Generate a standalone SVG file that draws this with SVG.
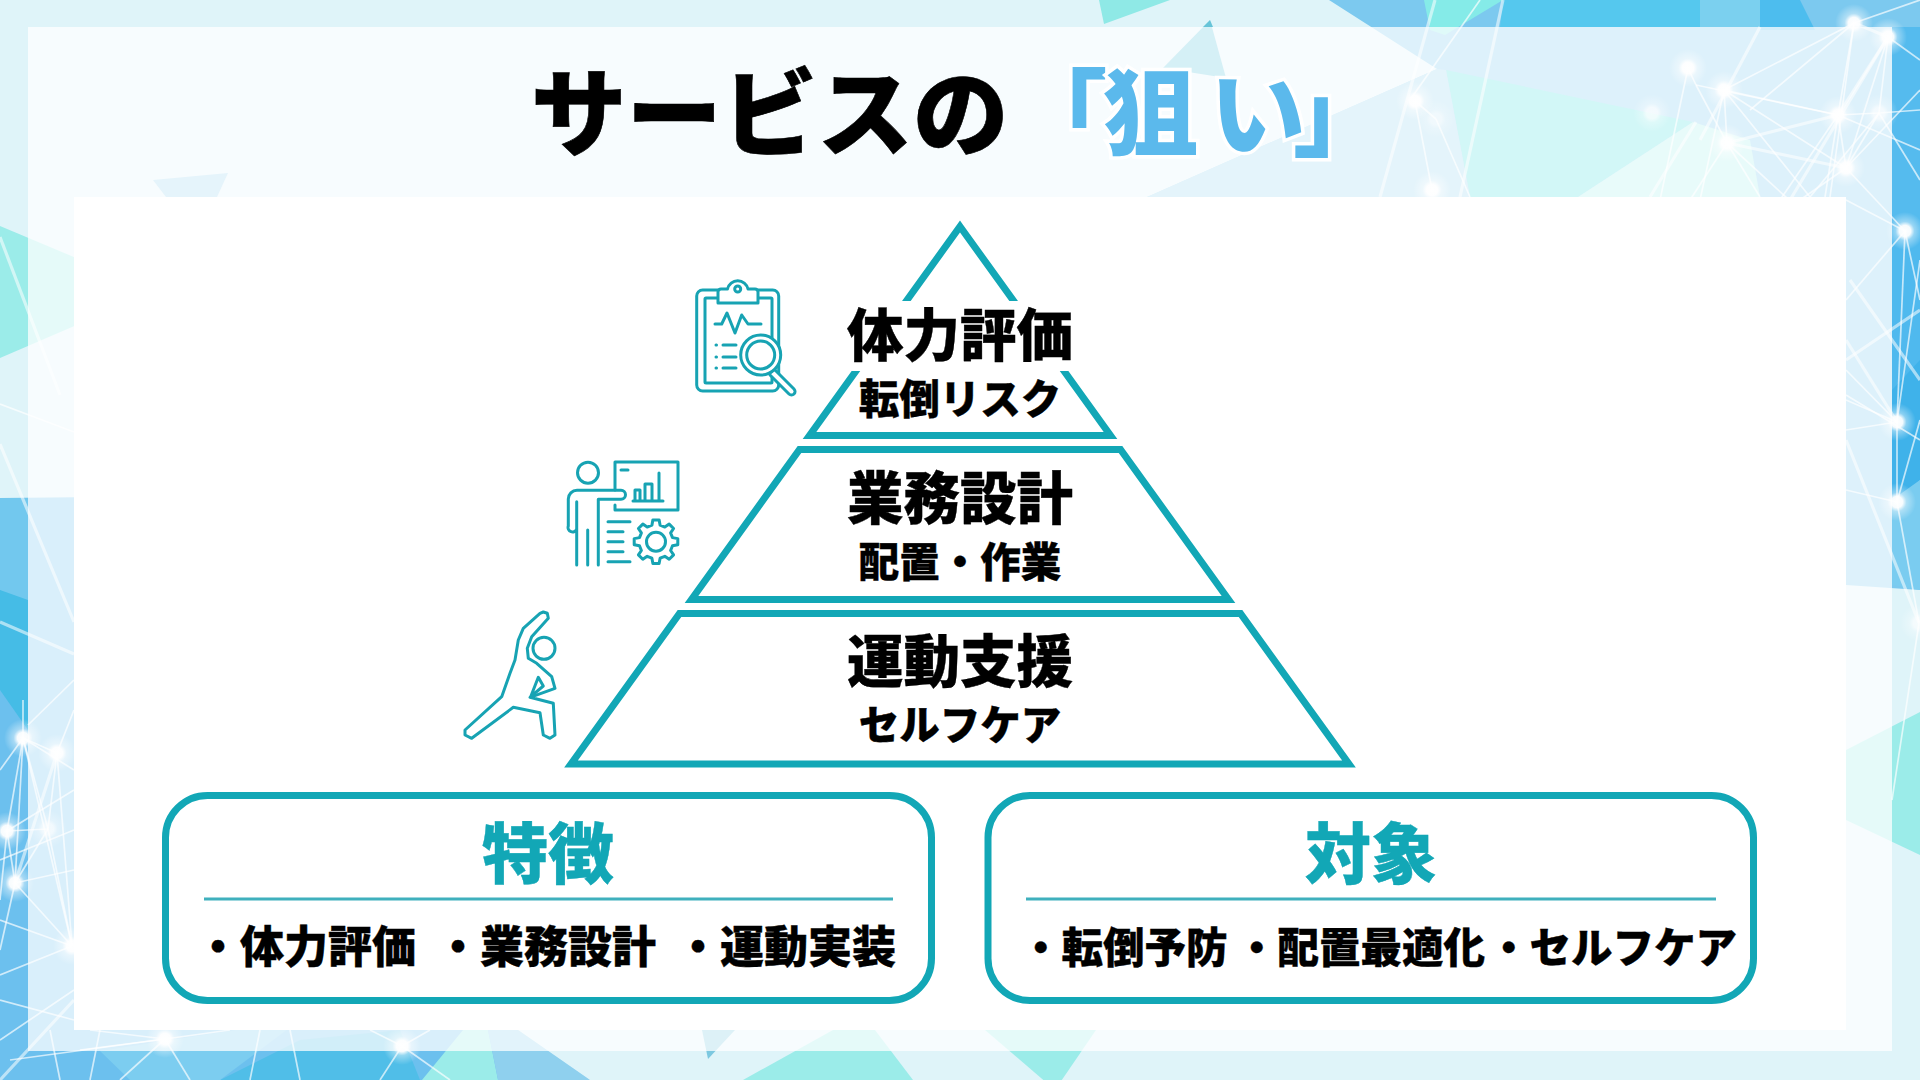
<svg xmlns="http://www.w3.org/2000/svg" width="1920" height="1080" viewBox="0 0 1920 1080">
<defs>
<radialGradient id="glow"><stop offset="0" stop-color="#fff"/><stop offset="0.3" stop-color="#fff" stop-opacity="0.95"/><stop offset="0.5" stop-color="#fff" stop-opacity="0.4"/><stop offset="1" stop-color="#fff" stop-opacity="0"/></radialGradient>
<g id="n"><circle r="19" fill="url(#glow)"/></g>
</defs>
<style>
.net line{stroke:#fff;stroke-width:1.7;stroke-opacity:.68}
.net .b{stroke-width:3.2;stroke-opacity:.55}
.ic{fill:none;stroke:#17a3b3;stroke-width:3;stroke-linecap:round;stroke-linejoin:round}
.tier{fill:none;stroke:#12a7b6;stroke-width:7;stroke-linejoin:miter;stroke-miterlimit:10}
.card{fill:#fff;stroke:#12a7b6;stroke-width:7}
.rule{stroke:#3fb0bd;stroke-width:3}
text{font-family:"Noto Sans CJK JP","Noto Sans",sans-serif;font-weight:900;fill:#000;stroke:#000;stroke-width:.4;text-anchor:middle}
.h{font-size:56.500px}.s{font-size:40.500px}.c{font-size:66px;fill:#12a7b6;stroke:#12a7b6}
.l{font-size:44px;text-anchor:start}.r{font-size:41.500px;text-anchor:start}
.t{font-size:95.500px;text-anchor:start;stroke-width:.6}
.tb{fill:#5bb9ec;stroke:#fff;stroke-width:7;paint-order:stroke}
</style>
<g id="background">
<rect width="1920" height="1080" fill="#dff4f9"/>
<polygon points="1329,0 1920,0 1920,590 1846,585 1147,585 1147,197 1437,69" fill="#7cc9ef"/>
<polygon points="1503,0 1700,0 1700,27 1500,27" fill="#55c8ee"/>
<polygon points="1700,0 1760,0 1765,27 1700,27" fill="#7bd0ef"/>
<polygon points="1760,0 1800,0 1815,30 1760,30" fill="#4dbdee"/>
<polygon points="1424,0 1503,0 1445,35 1430,30" fill="#85ebe8"/>
<polygon points="1892,27 1920,27 1920,230 1892,230" fill="#55bbee"/>
<polygon points="1892,230 1920,230 1920,400 1892,390" fill="#4fb9ee"/>
<polygon points="1892,390 1920,360 1920,480 1892,510" fill="#3fb2ea"/>
<polygon points="1892,500 1920,480 1920,590 1892,585" fill="#7accf0"/>
<polygon points="1099,0 1170,0 1104,24" fill="#8fe9e6"/>
<polygon points="1846,750 1920,712 1920,855 1846,820" fill="#9bece9"/>
<polygon points="0,226 100,268 100,315 0,358" fill="#9bece9"/>
<polygon points="0,498 300,495 590,1080 0,1080" fill="#6cc0ee"/>
<polygon points="0,498 28,498 28,610 0,590" fill="#72c8ee"/>
<polygon points="0,590 28,600 28,730 0,690" fill="#45bce6"/>
<polygon points="220,1080 300,1040 400,1030 420,1080" fill="#50bee8"/>
<polygon points="100,1051 300,1020 220,1080 130,1080" fill="#7ccdf0"/>
<polygon points="463,1030 488,1030 498,1080 422,1080" fill="#9bece9"/>
<polygon points="488,1030 518,1030 590,1080 498,1080" fill="#8fd0ee"/>
<polygon points="518,1030 702,1030 708,1059 735,1030 833,1030 743,1080 590,1080" fill="#dff4f9"/>
<polygon points="702,1030 735,1030 708,1059" fill="#7cc8e0"/>
<polygon points="833,1030 875,1030 913,1080 743,1080" fill="#9bece9"/>
<polygon points="985,1030 1096,1030 1055,1090" fill="#9bece9"/>
<rect x="28" y="27" width="1864" height="1024" fill="#fff" fill-opacity=".74"/>
<polygon points="1446,70 1693,122 1578,197 1470,197" fill="#d2f7f7"/>
<polygon points="1693,122 1578,197 1760,197 1750,140" fill="#e8fbfa"/>
<polygon points="1437,69 1446,70 1470,197 1147,197" fill="#e4f4fb"/>
<polygon points="1210,20 1226,78 1163,68" fill="#d5f0f6"/>
<polygon points="1210,20 1213,27 1203,27" fill="#67c4d8"/>
<polygon points="153,180 228,173 217,197 166,197" fill="#e5f4fb"/>
</g>
<g class="net" id="network">
<line x1="1854" y1="23" x2="1888" y2="37" class="b"/><line x1="1854" y1="23" x2="1838" y2="115"/><line x1="1854" y1="23" x2="1724" y2="90"/><line x1="1854" y1="23" x2="1920" y2="0"/><line x1="1888" y1="37" x2="1838" y2="115" class="b"/><line x1="1888" y1="37" x2="1879" y2="113"/><line x1="1888" y1="37" x2="1846" y2="168"/><line x1="1888" y1="37" x2="1920" y2="60"/>
<line x1="1724" y1="90" x2="1838" y2="115"/><line x1="1724" y1="90" x2="1727" y2="143"/><line x1="1724" y1="90" x2="1846" y2="168"/><line x1="1724" y1="90" x2="1700" y2="200"/><line x1="1696" y1="85" x2="1727" y2="143"/><line x1="1696" y1="85" x2="1838" y2="115"/><line x1="1688" y1="68" x2="1696" y2="85"/><line x1="1688" y1="68" x2="1660" y2="200"/>
<line x1="1838" y1="115" x2="1727" y2="143" class="b"/><line x1="1838" y1="115" x2="1846" y2="168"/><line x1="1838" y1="115" x2="1879" y2="113"/><line x1="1838" y1="115" x2="1780" y2="200"/><line x1="1879" y1="113" x2="1846" y2="168"/><line x1="1879" y1="113" x2="1920" y2="180"/><line x1="1727" y1="143" x2="1846" y2="168" class="b"/><line x1="1727" y1="143" x2="1800" y2="210"/><line x1="1727" y1="143" x2="1690" y2="200"/><line x1="1846" y1="168" x2="1905" y2="231"/><line x1="1846" y1="168" x2="1800" y2="200"/><line x1="1696" y1="122" x2="1650" y2="197" class="b"/><line x1="1888" y1="37" x2="1790" y2="200" class="b"/><line x1="1854" y1="23" x2="1830" y2="197"/><line x1="1838" y1="115" x2="1825" y2="197"/><line x1="1838" y1="115" x2="1920" y2="150"/><line x1="1846" y1="168" x2="1920" y2="90"/><line x1="1879" y1="113" x2="1920" y2="110"/><line x1="1879" y1="113" x2="1810" y2="197"/><line x1="1727" y1="143" x2="1760" y2="197"/><line x1="1724" y1="90" x2="1810" y2="197"/><line x1="1854" y1="23" x2="1750" y2="110"/><line x1="1760" y1="27" x2="1700" y2="140" class="b"/>
<line x1="1905" y1="231" x2="1920" y2="300"/><line x1="1905" y1="231" x2="1897" y2="422"/><line x1="1905" y1="231" x2="1846" y2="200"/><line x1="1897" y1="422" x2="1846" y2="400"/><line x1="1897" y1="422" x2="1846" y2="340" class="b"/><line x1="1897" y1="422" x2="1920" y2="260"/><line x1="1897" y1="422" x2="1846" y2="370"/><line x1="1897" y1="422" x2="1846" y2="430"/><line x1="1897" y1="422" x2="1897" y2="502"/><line x1="1897" y1="502" x2="1846" y2="490"/><line x1="1897" y1="502" x2="1919" y2="623"/><line x1="1897" y1="502" x2="1920" y2="420"/><line x1="1850" y1="280" x2="1920" y2="380" class="b"/><line x1="1846" y1="440" x2="1919" y2="623" class="b"/><line x1="1919" y1="623" x2="1892" y2="800"/><line x1="1846" y1="395" x2="1920" y2="440"/><line x1="1846" y1="360" x2="1920" y2="310" class="b"/><line x1="1905" y1="231" x2="1846" y2="300"/>
<line x1="1415" y1="101" x2="1432" y2="190"/><line x1="1436" y1="119" x2="1470" y2="197"/><line x1="1415" y1="101" x2="1436" y2="119"/><line x1="1435" y1="0" x2="1380" y2="197" class="b"/><line x1="1503" y1="0" x2="1460" y2="197" class="b"/><line x1="1480" y1="0" x2="1410" y2="100"/>
<line x1="23" y1="738" x2="57" y2="753"/><line x1="23" y1="738" x2="7" y2="831"/><line x1="23" y1="738" x2="48" y2="829"/><line x1="23" y1="738" x2="15" y2="883"/><line x1="23" y1="738" x2="0" y2="770"/><line x1="23" y1="738" x2="23" y2="700"/><line x1="57" y1="753" x2="48" y2="829"/><line x1="57" y1="753" x2="72" y2="946"/><line x1="57" y1="753" x2="74" y2="710"/><line x1="7" y1="831" x2="48" y2="829"/><line x1="7" y1="831" x2="15" y2="883"/><line x1="7" y1="831" x2="74" y2="790"/><line x1="48" y1="829" x2="15" y2="883"/><line x1="48" y1="829" x2="72" y2="946"/><line x1="15" y1="883" x2="72" y2="946"/><line x1="15" y1="883" x2="0" y2="950"/><line x1="15" y1="883" x2="74" y2="870"/><line x1="72" y1="946" x2="0" y2="975"/><line x1="72" y1="946" x2="0" y2="920"/><line x1="0" y1="1040" x2="74" y2="990"/><line x1="23" y1="738" x2="74" y2="770"/><line x1="15" y1="883" x2="57" y2="753" class="b"/><line x1="72" y1="946" x2="23" y2="738"/><line x1="0" y1="860" x2="74" y2="830"/><line x1="0" y1="1000" x2="74" y2="1020"/><line x1="7" y1="831" x2="0" y2="900"/>
<line x1="0" y1="237" x2="60" y2="395" class="b"/><line x1="0" y1="444" x2="74" y2="622" class="b"/><line x1="0" y1="404" x2="74" y2="432"/><line x1="0" y1="622" x2="74" y2="654" class="b"/><line x1="74" y1="680" x2="28" y2="725"/><line x1="0" y1="1080" x2="74" y2="1000" class="b"/>
<line x1="165" y1="1039" x2="120" y2="1080"/><line x1="165" y1="1039" x2="190" y2="1080"/><line x1="165" y1="1039" x2="90" y2="1030"/><line x1="165" y1="1039" x2="230" y2="1030"/><line x1="165" y1="1039" x2="80" y2="1050"/><line x1="165" y1="1039" x2="10" y2="1060"/><line x1="402" y1="1046" x2="380" y2="1080"/><line x1="402" y1="1046" x2="450" y2="1080"/><line x1="402" y1="1046" x2="370" y2="1030"/><line x1="402" y1="1046" x2="430" y2="1030"/><line x1="250" y1="1080" x2="260" y2="1030"/><line x1="300" y1="1080" x2="290" y2="1030"/><line x1="90" y1="1080" x2="100" y2="1030"/><line x1="60" y1="1080" x2="50" y2="1030"/>
<use href="#n" x="1854" y="23"/><use href="#n" x="1888" y="37"/><use href="#n" x="1688" y="68"/><use href="#n" x="1724" y="90"/><use href="#n" x="1652" y="113" opacity=".7"/><use href="#n" x="1838" y="115"/><use href="#n" x="1879" y="113" opacity=".7"/><use href="#n" x="1727" y="143"/><use href="#n" x="1846" y="168"/><use href="#n" x="1905" y="231"/><use href="#n" x="1897" y="422"/><use href="#n" x="1897" y="502"/><use href="#n" x="1415" y="101"/><use href="#n" x="1436" y="119" opacity=".5"/><use href="#n" x="1432" y="190"/><use href="#n" x="1919" y="623" opacity=".7"/>
<use href="#n" x="23" y="738"/><use href="#n" x="57" y="753"/><use href="#n" x="7" y="831"/><use href="#n" x="48" y="829" opacity=".7"/><use href="#n" x="15" y="883"/><use href="#n" x="72" y="946"/><use href="#n" x="165" y="1039"/><use href="#n" x="402" y="1046"/>
</g>
<rect id="panel" x="74" y="197" width="1772" height="833" fill="#fff"/>
<g id="title">
<text class="t" x="531" y="149">サービスの</text>
<text class="t tb" x="1012 1103 1210 1293" y="149">「狙い」</text>
</g>
<g id="tier-top">
<polygon class="tier" points="960,226.500 1110.500,435.500 809.500,435.500"/>
<rect x="840" y="301" width="240" height="70" fill="#fff"/>
<text class="h" x="960" y="356">体力評価</text>
<text class="s" x="960" y="414">転倒リスク</text>
</g>
<g id="tier-mid">
<polygon class="tier" points="799.500,449.500 1120.500,449.500 1228.500,599.500 691.500,599.500"/>
<text class="h" x="960" y="519">業務設計</text>
<text class="s" x="960" y="577">配置・作業</text>
</g>
<g id="tier-bottom">
<polygon class="tier" points="679.500,613.500 1240.500,613.500 1349,764 571,764"/>
<text class="h" x="960" y="682">運動支援</text>
<text class="s" x="960" y="740">セルフケア</text>
</g>
<g id="icon-clipboard" class="ic">
<rect x="696.700" y="290" width="82" height="101" rx="6"/>
<rect x="705" y="298" width="67" height="85" rx="1"/>
<path d="M718,303V292a3,3 0 0 1 3,-3H727.500a10.500,10.500 0 0 1 20.500,0H755a3,3 0 0 1 3,3V303Z" fill="#fff"/>
<circle cx="737.700" cy="289" r="3"/>
<path d="M715,324H721.700L727,313L735,333L741.700,315L748,324H761"/>
<path d="M716,345h.5M716,357h.5M716,368h.5M723,345H736M723,357H736M723,368H736"/>
<path d="M775,370L794,389a3.500,3.500 0 0 1 -5,5L770,375" fill="#fff"/>
<circle cx="760.700" cy="355" r="20" fill="#fff"/>
<circle cx="760.700" cy="355" r="14"/>
</g>
<g id="icon-presenter" class="ic">
<circle cx="588" cy="472.700" r="10.500"/>
<path d="M615,490V462H678V510H615V505"/>
<path d="M621,470H628M633,501H663M635,500V490H640V500M645,500V484H652V500M659,500V473"/>
<path d="M576.700,501.700V565M587.700,530V565M598.300,499.300V565M598.300,499.300H621a4.500,4.500 0 0 0 0,-9H577a8.700,8.700 0 0 0 -8.700,8.700V526a4,4 0 0 0 8.400,3"/>
<path d="M608,521.700H630M608,531.700H623M608,541.700H623M608,551.700H623M608,561.700H630"/>
<polygon transform="translate(656,541.700)" points="16.500,-4.100 21.800,-3.100 21.800,3.100 16.500,4.100 14.600,8.800 17.600,13.200 13.200,17.600 8.800,14.600 4.100,16.500 3.100,21.800 -3.100,21.800 -4.100,16.500 -8.800,14.600 -13.200,17.600 -17.600,13.200 -14.600,8.800 -16.500,4.100 -21.800,3.100 -21.800,-3.100 -16.500,-4.100 -14.600,-8.800 -17.600,-13.200 -13.200,-17.600 -8.800,-14.600 -4.100,-16.500 -3.100,-21.800 3.100,-21.800 4.100,-16.500 8.800,-14.600 13.200,-17.600 17.600,-13.200 14.600,-8.800"/>
<circle cx="656" cy="541.700" r="9.500"/>
</g>
<g id="icon-stretch" class="ic">
<circle cx="544" cy="648.300" r="11"/>
<path d="M540,613.300L523.300,628.300L518.300,640L515,660L510,673.300L501.700,696.700L465,730L465,735L471.700,738.300L513.300,707.300L540,712.700L543.300,735L550,738.300L555,735L553.300,703.300L530,697.300L555,688.300L551.700,676.700L536.700,663.300L528.300,658.300L527.300,648.300L531.700,636.700L548.300,618.300L547.300,613.300L543.300,612Z"/>
<path d="M538.300,677.300L543.300,686L530.700,696.700Z"/>
</g>
<g id="card-features">
<rect class="card" x="165.500" y="795.500" width="766" height="205" rx="42"/>
<text class="c" x="548" y="878">特徴</text>
<line class="rule" x1="204" y1="899" x2="893" y2="899"/>
<text class="l" x="196" y="963">・体力評価</text>
<text class="l" x="436" y="963">・業務設計</text>
<text class="l" x="676" y="963">・運動実装</text>
</g>
<g id="card-target">
<rect class="card" x="988" y="795.500" width="765.500" height="205" rx="42"/>
<text class="c" x="1371" y="878">対象</text>
<line class="rule" x1="1026" y1="899" x2="1716" y2="899"/>
<text class="r" x="1020" y="963">・転倒予防</text>
<text class="r" x="1236" y="963">・配置最適化</text>
<text class="r" x="1488" y="963">・セルフケア</text>
</g>
</svg>
